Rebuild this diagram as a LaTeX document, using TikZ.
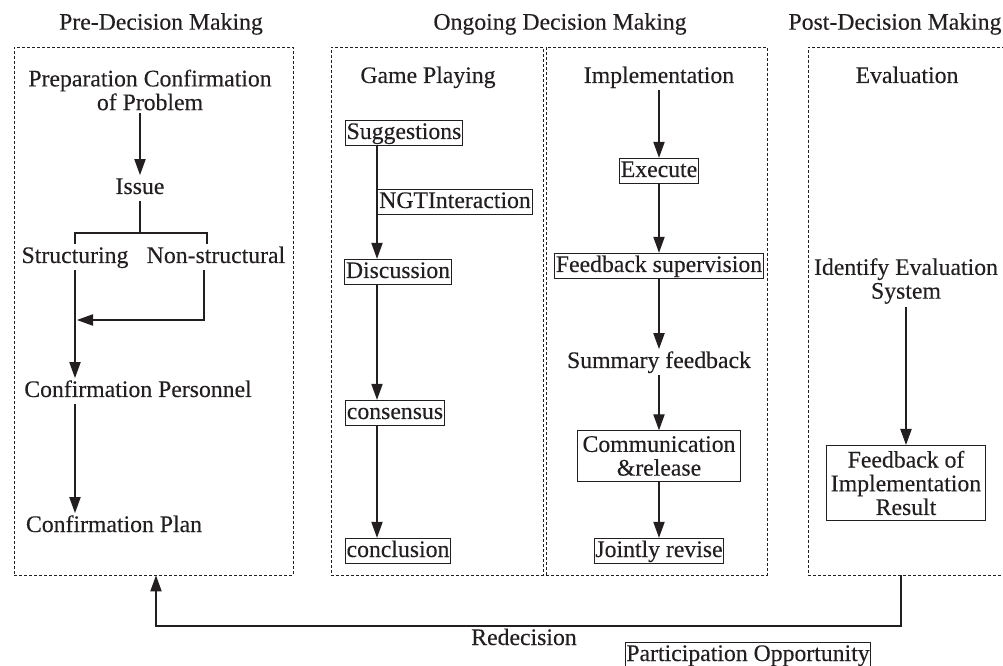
\documentclass[tikz,border=0pt]{standalone}
\usepackage{fontspec}
\setmainfont{Liberation Serif}[FakeBold=0.25]
\usetikzlibrary{arrows.meta,fit}
\definecolor{ink}{HTML}{231F20}
\begin{document}
\begin{tikzpicture}[x=0.75pt,y=-0.75pt,
  every node/.style={font=\fontsize{17.8}{17.8}\selectfont, text=ink},
  plain/.style={inner xsep=1pt, inner ysep=1.5pt, text height=12.5pt, text depth=3.5pt},
  box/.style={plain, draw=ink, line width=0.8pt},
  mtext/.style={align=center, inner xsep=1pt, inner ysep=2pt},
  mbox/.style={align=center, draw=ink, line width=0.8pt, inner xsep=3.5pt, inner ysep=4pt},
  dbox/.style={draw=ink, line width=0.7pt, dash pattern=on 2.25pt off 1.5pt, inner sep=0pt},
  arr/.style={draw=ink, line width=0.8pt, -{Triangle[length=12pt,width=8.5pt]}},
  ln/.style={draw=ink, line width=0.8pt}]
\useasboundingbox (0,0) rectangle (1003,666);

% titles
\node (t1) at (161,24) {Pre-Decision Making};
\node (t2) at (560,24) {Ongoing Decision Making};
\node (t3) at (895,24) {Post-Decision Making};

% dashed frames
\node[dbox, fit={(14,47) (293,575)}] (B1) {};
\node[dbox, fit={(331,47) (543,575)}] (B2) {};
\node[dbox, fit={(546,47) (767,575)}] (B3) {};
\node[dbox, fit={(808,47) (1015,575)}] (B4) {};

% pre-decision
\node[mtext] (prep) at (150,90) {Preparation Confirmation\\of Problem};
\node[plain] (issue) at (140,188) {Issue};
\coordinate (br) at (140,233);
\node[plain] (struct) at (75,257) {Structuring};
\node[plain] (nonstr) at (216,257) {Non-structural};
\coordinate (mg) at (75,320);
\node[plain] (cperson) at (138,391) {Confirmation Personnel};
\node[plain] (cplan) at (114,526) {Confirmation Plan};

\draw[arr] (prep.south -| issue) -- (issue);
\draw[ln] (issue) -- (br);
\draw[ln] (struct.north) |- (br) -| ([xshift=-6.75pt]nonstr.north);
\draw[arr] ([xshift=-9pt]nonstr.south) |- ([xshift=1.5pt]mg);
\draw[arr] (struct.south) -- (struct.south |- cperson.north);
\draw[arr] (cperson.south -| struct) -- (struct |- cplan.north);

% game playing
\node[plain] (game) at (428,77) {Game Playing};
\coordinate (gx) at (377,0);
\node[box] (sugg) at (404,133) {Suggestions};
\node[box] (ngt) at (455,202) {NGTInteraction};
\node[box] (disc) at (398,272) {Discussion};
\node[box] (cons) at (395,413) {consensus};
\node[box] (concl) at (398,551) {conclusion};
\draw[arr] (sugg.south -| gx) -- (disc.north -| gx);
\draw[arr] (disc.south -| gx) -- (cons.north -| gx);
\draw[arr] (cons.south -| gx) -- (concl.north -| gx);

% implementation
\node[plain] (impl) at (659,77) {Implementation};
\node[box] (exec) at (659,171) {Execute};
\node[box] (fsup) at (659,266) {Feedback supervision};
\node[plain] (sumf) at (659,362) {Summary feedback};
\node[mbox] (comm) at (659,456) {Communication\\\&release};
\node[box] (joint) at (659,551) {Jointly revise};
\draw[arr] (impl) -- (exec);
\draw[arr] (exec) -- (fsup);
\draw[arr] (fsup) -- (sumf);
\draw[arr] (sumf) -- (comm);
\draw[arr] (comm) -- (joint);

% evaluation
\node[plain] (eval) at (907,77) {Evaluation};
\node[mtext] (ident) at (906,281) {Identify Evaluation\\System};
\node[mbox] (fbres) at (906,483) {Feedback of\\Implementation\\Result};
\draw[arr] (ident) -- (fbres);

% redecision loop
\coordinate (r1) at (901,626);
\coordinate (r2) at (156,0);
\draw[arr] (B4.south -| r1) -- (r1) -| (B1.south -| r2);
\node[plain] (redec) at (524,639) {Redecision};
\node[box] (part) at (748,655) {Participation Opportunity};
\end{tikzpicture}
\end{document}
